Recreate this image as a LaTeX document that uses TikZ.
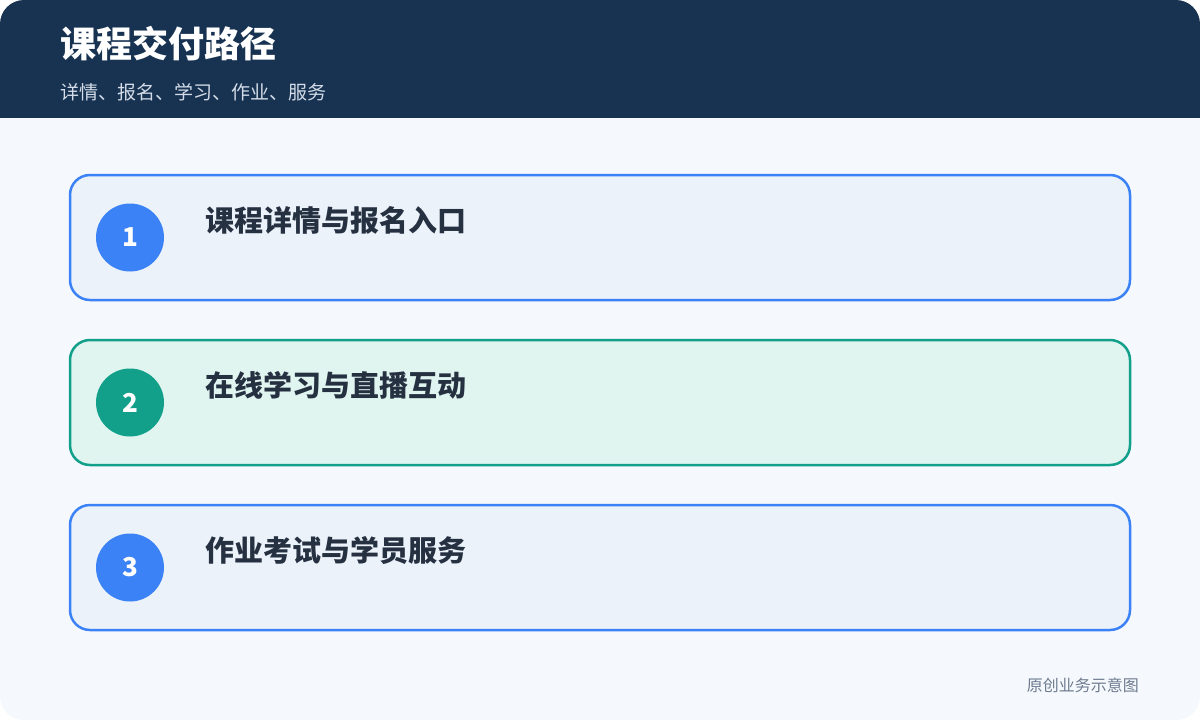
\documentclass[tikz,border=0pt]{standalone}
\usepackage{fontspec}
\setmainfont{Noto Sans CJK SC}
\usetikzlibrary{positioning}
\definecolor{headnavy}{HTML}{183352}
\definecolor{pagebg}{HTML}{F5F8FC}
\definecolor{blueline}{HTML}{3B82F6}
\definecolor{bluefill}{HTML}{EBF2FA}
\definecolor{tealline}{HTML}{12A08A}
\definecolor{tealfill}{HTML}{E0F4F0}
\definecolor{titleink}{HTML}{253041}
\definecolor{subink}{HTML}{D3DCE8}
\definecolor{noteink}{HTML}{6E7C90}
\tikzset{
  card/.style={rounded corners=20pt, line width=2.5pt, minimum width=1060pt, minimum height=125pt, inner sep=0pt},
  stepnum/.style={circle, minimum size=68pt, inner sep=0pt, text=white, font=\bfseries\fontsize{26}{30}\selectfont},
  steptitle/.style={anchor=west, inner sep=0pt, text=titleink, font=\bfseries\fontsize{29}{33}\selectfont}
}
% name, centre y, fill, line, number, title
\newcommand\stepcard[6]{%
  \node[card, fill=#3, draw=#4] (#1) at (600,#2) {};
  \node[stepnum, fill=#4] (#1num) at (130,#2) {#5};
  \node[steptitle] (#1title) at (205,#2-17) {#6}
}

\begin{document}
\begin{tikzpicture}[x=1pt,y=-1pt]
        \useasboundingbox (0,0) rectangle (1200,720);
        % The page
        \fill[white] (0,0) rectangle (1200,720);
        \begin{scope}
          \clip[rounded corners=24pt] (0,0) rectangle (1200,720);
          \fill[pagebg] (0,0) rectangle (1200,720);
          \fill[headnavy] (0,0) rectangle (1200,118);
        \end{scope}
        \node[anchor=west, inner sep=0pt, text=white, font=\bfseries\fontsize{36}{40}\selectfont] (head) at (60,44) {课程交付路径};
        \node[anchor=west, inner sep=0pt, text=subink, font=\fontsize{19}{22}\selectfont] (sub) at (60,92.5) {详情、报名、学习、作业、服务};

        % The steps
        \stepcard{enrol}{237.5}{bluefill}{blueline}{1}{课程详情与报名入口};
        \stepcard{learn}{402.5}{tealfill}{tealline}{2}{在线学习与直播互动};
        \stepcard{serve}{567.5}{bluefill}{blueline}{3}{作业考试与学员服务};

        % Footnote
        \node[anchor=east, inner sep=0pt, text=noteink, font=\fontsize{16}{18}\selectfont] (note) at (1139,685) {原创业务示意图};
\end{tikzpicture}
\end{document}
